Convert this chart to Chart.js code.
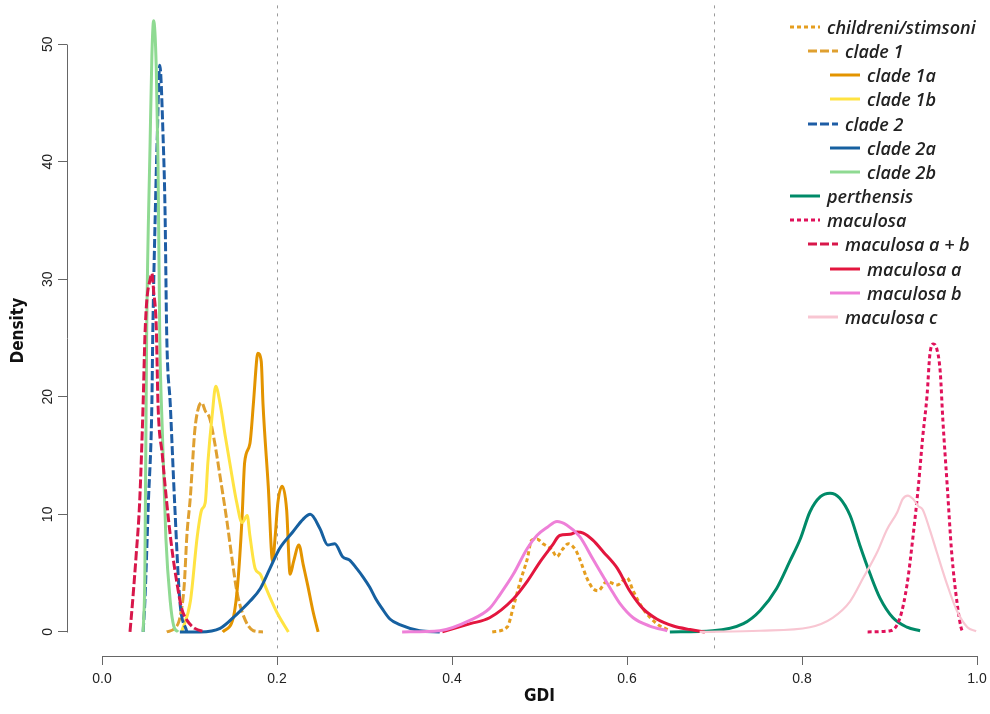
<!DOCTYPE html>
<html>
<head>
<meta charset="utf-8">
<script src="https://cdn.jsdelivr.net/npm/chart.js@4.4.1/dist/chart.umd.min.js"></script>
<style>
  html, body { margin: 0; padding: 0; background: #fff; overflow: hidden; width: 990px; height: 714px; }
  #wrap { position: absolute; left: 0; top: -5px; width: 1012px; height: 719px; }
  #legend { position: absolute; left: 0; top: 0; }
  .item { position: absolute; height: 24px; display: flex; align-items: center; }
  .item svg { margin-right: 7px; }
  .item span { font: italic 600 18px "Open Sans", sans-serif; color: #222; white-space: nowrap; }
</style>
</head>
<body>
<div id="wrap"><canvas id="gdiChart"></canvas></div>
<div id="legend"></div>
<script>
// tick labels and reference lines
const xTicks = [0, 0.2, 0.4, 0.6, 0.8, 1.0];
const yTicks = [0, 10, 20, 30, 40, 50];
const refLines = [0.2, 0.7];

// density curves, GDI (x) and density (y)
const childreniX = [0.446, 0.463, 0.470, 0.478, 0.486, 0.491, 0.497, 0.504, 0.514, 0.520, 0.526, 0.533, 0.541, 0.546, 0.554, 0.561, 0.567, 0.577, 0.589, 0.600, 0.607, 0.618, 0.634, 0.649];
const childreniY = [0, 0.4, 2.1, 4.3, 6.2, 7.8, 7.9, 7.5, 7.0, 6.4, 7.0, 7.5, 7.0, 6.2, 4.6, 3.7, 3.5, 4.3, 4.0, 4.6, 3.5, 2.0, 0.7, 0.1];

const clade1X = [0.074, 0.083, 0.089, 0.094, 0.097, 0.101, 0.103, 0.106, 0.110, 0.114, 0.118, 0.123, 0.129, 0.135, 0.143, 0.149, 0.154, 0.161, 0.173, 0.184];
const clade1Y = [0, 0.3, 1.2, 4, 8.2, 11.5, 13.8, 17.1, 19, 19.5, 18.8, 18.2, 16, 13.2, 9.3, 6, 3.5, 1.5, 0.1, 0];

const clade1aX = [0.138, 0.150, 0.155, 0.160, 0.163, 0.169, 0.173, 0.177, 0.178, 0.182, 0.184, 0.190, 0.195, 0.198, 0.201, 0.206, 0.211, 0.215, 0.219, 0.225, 0.230, 0.235, 0.241, 0.247];
const clade1aY = [0, 1.2, 4, 9.6, 14.4, 16, 19.4, 23.3, 23.7, 23, 19.4, 12.4, 6, 8.2, 11, 12.4, 10.4, 4.9, 6, 7.4, 5.7, 4, 1.8, 0];

const clade1bX = [0.091, 0.101, 0.109, 0.114, 0.118, 0.121, 0.126, 0.130, 0.135, 0.141, 0.146, 0.154, 0.160, 0.166, 0.169, 0.175, 0.181, 0.186, 0.194, 0.201, 0.213];
const clade1bY = [0, 2.6, 8.2, 10.4, 11, 14.4, 18.5, 20.9, 19.4, 16.6, 14.4, 11, 9.3, 9.9, 8.2, 5.4, 4.9, 4, 2.6, 1.5, 0];

const clade2X = [0.047, 0.049, 0.053, 0.057, 0.058, 0.061, 0.063, 0.066, 0.070, 0.072, 0.074, 0.078, 0.083, 0.089, 0.097];
const clade2Y = [0, 2.6, 11, 19.4, 25.2, 36, 41.7, 48.2, 41.7, 36, 25.2, 19.4, 11, 2.6, 0];

const clade2aX = [0.089, 0.112, 0.135, 0.154, 0.169, 0.181, 0.192, 0.203, 0.218, 0.230, 0.238, 0.249, 0.258, 0.266, 0.275, 0.283, 0.291, 0.299, 0.306, 0.313, 0.320, 0.329, 0.341, 0.363, 0.386];
const clade2aY = [0, 0, 0.3, 1.5, 2.6, 3.7, 5.4, 7.1, 8.5, 9.6, 10, 8.8, 7.4, 7.5, 6.4, 6.1, 5.4, 4.6, 3.8, 2.8, 2.0, 1.1, 0.6, 0.1, 0];

const clade2bX = [0.047, 0.049, 0.051, 0.055, 0.057, 0.059, 0.062, 0.064, 0.066, 0.069, 0.073, 0.078, 0.082, 0.087];
const clade2bY = [0, 5, 25, 41.7, 49, 52, 48, 40, 25.2, 17, 8, 2.6, 0.5, 0];

const perthensisX = [0.649, 0.698, 0.733, 0.752, 0.771, 0.786, 0.798, 0.809, 0.821, 0.832, 0.843, 0.855, 0.866, 0.878, 0.889, 0.904, 0.920, 0.935];
const perthensisY = [0, 0.1, 0.7, 1.8, 3.7, 6, 7.9, 10.2, 11.5, 11.8, 11.4, 9.9, 7.4, 4.9, 2.9, 1.2, 0.4, 0.1];

const maculosaX = [0.875, 0.901, 0.912, 0.920, 0.927, 0.933, 0.938, 0.943, 0.946, 0.950, 0.954, 0.958, 0.961, 0.966, 0.971, 0.977, 0.983, 0.985];
const maculosaY = [0, 0.1, 1.2, 4, 8.2, 12.4, 16.6, 20.2, 23.5, 24.5, 24.1, 22.1, 18, 12.4, 6.8, 2.6, 0.1, 0];

const maculosaAbX = [0.032, 0.035, 0.039, 0.043, 0.047, 0.049, 0.051, 0.055, 0.057, 0.059, 0.062, 0.064, 0.069, 0.074, 0.080, 0.086, 0.091, 0.097, 0.106, 0.118];
const maculosaAbY = [0, 2.6, 6.5, 11, 19.4, 25, 28, 30, 30.5, 29, 26, 19.4, 15, 11, 7, 4, 2, 1, 0.3, 0];

const maculosaAX = [0.389, 0.421, 0.443, 0.470, 0.486, 0.501, 0.515, 0.523, 0.535, 0.543, 0.550, 0.561, 0.573, 0.589, 0.603, 0.618, 0.634, 0.653, 0.672, 0.689];
const maculosaAY = [0, 0.7, 1.2, 2.8, 4.3, 6.0, 7.4, 8.2, 8.3, 8.5, 8.4, 7.8, 6.8, 5.4, 3.5, 2.0, 1.1, 0.5, 0.2, 0];

const maculosaBX = [0.343, 0.386, 0.421, 0.443, 0.455, 0.470, 0.486, 0.497, 0.509, 0.520, 0.531, 0.546, 0.561, 0.581, 0.592, 0.607, 0.626, 0.646];
const maculosaBY = [0, 0.1, 1.0, 2.0, 3.2, 4.9, 7.1, 8.2, 8.9, 9.4, 9.1, 8.1, 6.2, 3.7, 2.4, 1.2, 0.5, 0.1];

const maculosaCX = [0.683, 0.752, 0.809, 0.835, 0.855, 0.870, 0.886, 0.897, 0.909, 0.915, 0.921, 0.927, 0.933, 0.938, 0.946, 0.954, 0.966, 0.977, 0.989, 0.999];
const maculosaCY = [0, 0.1, 0.4, 1.2, 2.6, 4.6, 6.8, 8.7, 10.2, 11.3, 11.6, 11.3, 10.7, 10.4, 8.7, 6.8, 4, 1.8, 0.4, 0.05];

const DOT = [4, 3];
const DASH = [9, 3];

// label, x, y, colour, dash, legend level
const series = [
    ['childreni/stimsoni', childreniX, childreniY, '#E59E1F', DOT, 0],
    ['clade 1', clade1X, clade1Y, '#DFA030', DASH, 1],
    ['clade 1a', clade1aX, clade1aY, '#E39400', [], 2],
    ['clade 1b', clade1bX, clade1bY, '#FFE342', [], 2],
    ['clade 2', clade2X, clade2Y, '#1E5DA5', DASH, 1],
    ['clade 2a', clade2aX, clade2aY, '#1660A0', [], 2],
    ['clade 2b', clade2bX, clade2bY, '#8FDA92', [], 2],
    ['perthensis', perthensisX, perthensisY, '#008A68', [], 0],
    ['maculosa', maculosaX, maculosaY, '#E0115A', DOT, 0],
    ['maculosa a + b', maculosaAbX, maculosaAbY, '#D8174A', DASH, 1],
    ['maculosa a', maculosaAX, maculosaAY, '#E3163E', [], 2],
    ['maculosa b', maculosaBX, maculosaBY, '#EE80D8', [], 2],
    ['maculosa c', maculosaCX, maculosaCY, '#F8C6D2', [], 1]
];

const tickFont = { family: '"Liberation Sans Narrow", "Liberation Sans", sans-serif', size: 14 };
const titleFont = { family: '"Liberation Sans Narrow", "DejaVu Sans Condensed", sans-serif', size: 17, weight: 'bold' };

// R style axes: line only from first to last tick
const axisLines = {
    id: 'axisLines',
    afterDraw(chart) {
        const { ctx, chartArea, scales: { x, y } } = chart;
        ctx.save();
        ctx.strokeStyle = '#666';
        ctx.lineWidth = 1;
        ctx.beginPath();
        const yb = Math.round(chartArea.bottom) + 0.5;
        ctx.moveTo(Math.round(x.getPixelForValue(xTicks[0])) + 0.5, yb);
        ctx.lineTo(Math.round(x.getPixelForValue(xTicks[xTicks.length - 1])) + 0.5, yb);
        const xl = Math.round(chartArea.left) + 0.5;
        ctx.moveTo(xl, Math.round(y.getPixelForValue(yTicks[0])) + 0.5);
        ctx.lineTo(xl, Math.round(y.getPixelForValue(yTicks[yTicks.length - 1])) + 0.5);
        ctx.stroke();
        ctx.restore();
    }
};

// dotted vertical reference lines
const vLines = {
    id: 'vLines',
    beforeDatasetsDraw(chart) {
        const { ctx, chartArea, scales: { x } } = chart;
        ctx.save();
        ctx.strokeStyle = '#9a9a9a';
        ctx.lineWidth = 1;
        ctx.setLineDash([3, 5]);
        refLines.forEach(v => {
            const px = Math.round(x.getPixelForValue(v)) + 0.5;
            ctx.beginPath();
            ctx.moveTo(px, chartArea.top);
            ctx.lineTo(px, chartArea.bottom - 4);
            ctx.stroke();
        });
        ctx.restore();
    }
};

const chart = new Chart(document.getElementById('gdiChart'), {
    type: 'line',
    data: {
        datasets: series.map(([label, xs, ys, color, dash], i) => ({
            label,
            data: xs.map((x, j) => ({ x, y: ys[j] })),
            borderColor: color,
            borderDash: dash,
            borderWidth: label === 'maculosa c' ? 2.2 : 3,
            pointRadius: 0,
            fill: false,
            cubicInterpolationMode: 'monotone',
            order: series.length - i // later series drawn on top, as in the original plot
        }))
    },
    options: {
        responsive: true,
        maintainAspectRatio: false,
        animation: false,
        layout: { padding: 0 },
        plugins: {
            legend: { display: false },
            tooltip: { enabled: false }
        },
        scales: {
            x: {
                type: 'linear',
                min: -0.04,
                max: 1.04,
                afterBuildTicks: s => { s.ticks = xTicks.map(v => ({ value: v })); },
                afterFit: s => { s.height = 58; },
                grid: { drawOnChartArea: false, drawTicks: true, tickLength: 9, color: '#666' },
                border: { display: false },
                ticks: { font: tickFont, color: '#222', padding: 6, maxRotation: 0, autoSkip: false,
                         callback: v => v.toFixed(1) },
                title: { display: true, text: 'GDI', font: titleFont, color: '#111', padding: { top: 0, bottom: 7 } }
            },
            y: {
                type: 'linear',
                min: -2.05,
                max: 53.3,
                afterBuildTicks: s => { s.ticks = yTicks.map(v => ({ value: v })); },
                afterFit: s => { s.width = 67; },
                grid: { drawOnChartArea: false, drawTicks: true, tickLength: 9, color: '#666' },
                border: { display: false },
                ticks: { font: tickFont, color: '#222', padding: 2, minRotation: 90, maxRotation: 90,
                         crossAlign: 'center', autoSkip: false },
                title: { display: true, text: 'Density', font: titleFont, color: '#111', padding: { top: 8, bottom: 0 } }
            }
        }
    },
    plugins: [vLines, axisLines]
});

// indented legend, built from the chart's datasets
const legendStyle = { lineStart: [790, 808, 830], rowTop: 15, rowGap: 24.15, sample: 30 };
const legendEl = document.getElementById('legend');
chart.data.datasets.forEach((ds, i) => {
    const level = series[i][5];
    const row = document.createElement('div');
    row.className = 'item';
    row.style.left = legendStyle.lineStart[level] + 'px';
    row.style.top = (legendStyle.rowTop + i * legendStyle.rowGap) + 'px';
    const dash = ds.borderDash.length ? ` stroke-dasharray="${ds.borderDash.join(',')}"` : '';
    row.innerHTML = `<svg width="${legendStyle.sample}" height="6"><line x1="0" y1="3" x2="${legendStyle.sample}" y2="3" stroke="${ds.borderColor}" stroke-width="3"${dash}/></svg><span>${ds.label}</span>`;
    legendEl.appendChild(row);
});
</script>
</body>
</html>
